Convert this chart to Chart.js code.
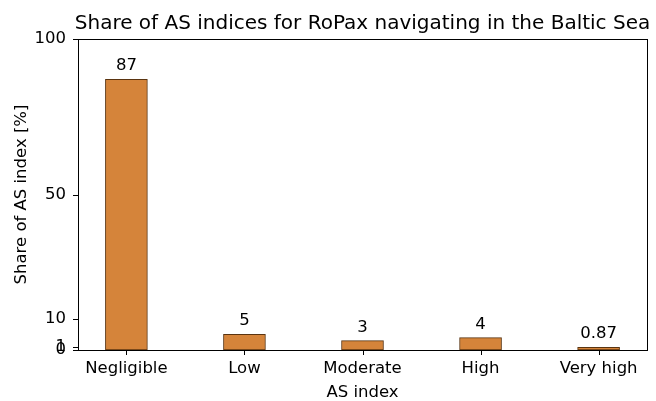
<!DOCTYPE html>
<html>
<head>
<meta charset="utf-8">
<script src="https://cdn.jsdelivr.net/npm/chart.js@4/dist/chart.umd.min.js"></script>
<style>
  html, body { margin: 0; padding: 0; background: #fff; }
  #wrap { width: 656px; height: 401px; }
</style>
</head>
<body>
<div id="wrap"><canvas id="c" width="656" height="401"></canvas></div>
<script>
const categories = ['Negligible', 'Low', 'Moderate', 'High', 'Very high'];
const shares = [87, 5, 3, 4, 0.87];
const shareLabels = ['87', '5', '3', '4', '0.87'];
const yTicks = [0, 1, 10, 50, 100];

const FONT = 'DejaVu Sans';
const FS = 16.5;

// frame round the plot, tick marks, title and bar labels
const extras = {
    id: 'extras',
    afterDatasetsDraw(chart) {
        const { ctx, chartArea: a, scales } = chart;
        const meta = chart.getDatasetMeta(0);
        ctx.save();
        ctx.fillStyle = '#000';
        ctx.font = `${FS}px "${FONT}"`;
        ctx.textAlign = 'center';
        ctx.textBaseline = 'alphabetic';
        meta.data.forEach((bar, i) => {
            ctx.fillText(shareLabels[i], bar.x, bar.y - 9);
        });
        ctx.strokeStyle = '#000';
        ctx.lineWidth = 1;
        ctx.strokeRect(a.left + 0.5, a.top + 0.5, a.right - a.left, a.bottom - a.top);
        ctx.beginPath();
        categories.forEach((c, i) => {
            const x = Math.round(scales.x.getPixelForValue(i)) + 0.5;
            ctx.moveTo(x, a.bottom);
            ctx.lineTo(x, a.bottom + 5);
        });
        yTicks.forEach(v => {
            const y = Math.round(scales.y.getPixelForValue(v)) + 0.5;
            ctx.moveTo(a.left - 5, y);
            ctx.lineTo(a.left, y);
        });
        ctx.stroke();
        ctx.font = `20px "${FONT}"`;
        ctx.fillText('Share of AS indices for RoPax navigating in the Baltic Sea', (a.left + a.right) / 2, 29);
        ctx.restore();
    }
};

new Chart(document.getElementById('c'), {
    type: 'bar',
    data: {
        datasets: [{
            data: shares.map((v, i) => ({ x: i, y: v })),
            backgroundColor: '#d5843a',
            borderColor: '#5a3410',
            borderWidth: 1,
            borderSkipped: false,
            barThickness: 42
        }]
    },
    options: {
        responsive: false,
        animation: false,
        layout: { padding: { top: 39, right: 9, left: 0, bottom: 0 } },
        plugins: { legend: { display: false }, tooltip: { enabled: false } },
        scales: {
            x: {
                type: 'linear',
                offset: false,
                min: -0.41,
                max: 4.41,
                grid: { display: false, tickLength: 5 },
                border: { color: '#000' },
                afterBuildTicks: s => { s.ticks = categories.map((c, i) => ({ value: i })); },
                afterFit: s => { s.height = 51; },
                ticks: {
                    autoSkip: false,
                    maxRotation: 0,
                    color: '#000',
                    font: { family: FONT, size: FS },
                    padding: 4,
                    callback: v => categories[v]
                },
                title: { display: true, text: 'AS index', color: '#000', font: { family: FONT, size: FS }, padding: { top: 0, bottom: -2 } }
            },
            y: {
                min: 0,
                max: 100,
                grid: { display: false, tickLength: 5 },
                border: { color: '#000' },
                afterBuildTicks: s => { s.ticks = yTicks.map(v => ({ value: v })); },
                afterFit: s => { s.width = 78; },
                ticks: {
                    autoSkip: false,
                    color: '#000',
                    font: { family: FONT, size: FS },
                    padding: 7
                },
                title: { display: true, text: 'Share of AS index [%]', color: '#000', font: { family: FONT, size: FS }, padding: { top: 12, bottom: 0 } }
            }
        }
    },
    plugins: [extras]
});
</script>
</body>
</html>
